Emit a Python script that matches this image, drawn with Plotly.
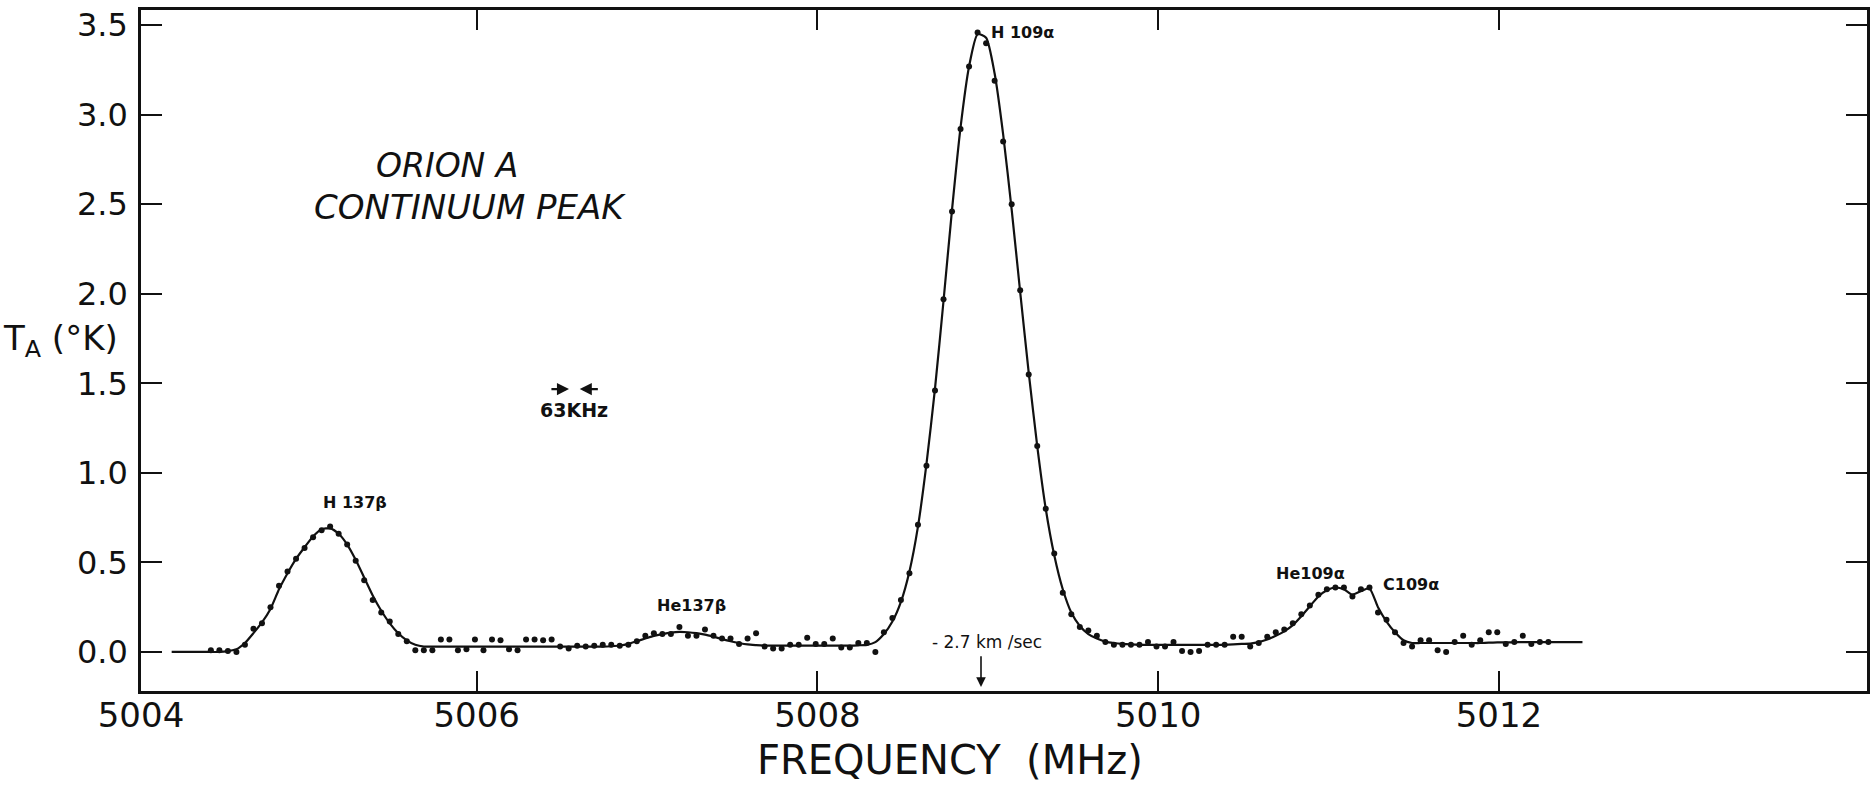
import plotly.graph_objects as go

# Channel centre frequencies (MHz) of the Orion A spectrum
FREQ_MHZ = [
    5004.44, 5004.49, 5004.54, 5004.59, 5004.64, 5004.69, 5004.74, 5004.79, 5004.84, 5004.89,
    5004.94, 5004.99, 5005.04, 5005.09, 5005.14, 5005.19, 5005.24, 5005.29, 5005.34, 5005.39,
    5005.44, 5005.49, 5005.54, 5005.59, 5005.64, 5005.69, 5005.74, 5005.79, 5005.84, 5005.89,
    5005.94, 5005.99, 5006.04, 5006.09, 5006.14, 5006.19, 5006.24, 5006.29, 5006.34, 5006.39,
    5006.44, 5006.49, 5006.54, 5006.59, 5006.64, 5006.69, 5006.74, 5006.79, 5006.84, 5006.89,
    5006.94, 5006.99, 5007.04, 5007.09, 5007.14, 5007.19, 5007.24, 5007.29, 5007.34, 5007.39,
    5007.44, 5007.49, 5007.54, 5007.59, 5007.64, 5007.69, 5007.74, 5007.79, 5007.84, 5007.89,
    5007.94, 5007.99, 5008.04, 5008.09, 5008.14, 5008.19, 5008.24, 5008.29, 5008.34, 5008.39,
    5008.44, 5008.49, 5008.54, 5008.59, 5008.64, 5008.69, 5008.74, 5008.79, 5008.84, 5008.89,
    5008.94, 5008.99, 5009.04, 5009.09, 5009.14, 5009.19, 5009.24, 5009.29, 5009.34, 5009.39,
    5009.44, 5009.49, 5009.54, 5009.59, 5009.64, 5009.69, 5009.74, 5009.79, 5009.84, 5009.89,
    5009.94, 5009.99, 5010.04, 5010.09, 5010.14, 5010.19, 5010.24, 5010.29, 5010.34, 5010.39,
    5010.44, 5010.49, 5010.54, 5010.59, 5010.64, 5010.69, 5010.74, 5010.79, 5010.84, 5010.89,
    5010.94, 5010.99, 5011.04, 5011.09, 5011.14, 5011.19, 5011.24, 5011.29, 5011.34, 5011.39,
    5011.44, 5011.49, 5011.54, 5011.59, 5011.64, 5011.69, 5011.74, 5011.79, 5011.84, 5011.89,
    5011.94, 5011.99, 5012.04, 5012.09, 5012.14, 5012.19, 5012.24, 5012.29,
]

# Measured antenna temperature per channel (K)
T_OBSERVED = [
    0.01, 0.01, 0.005, 0.0, 0.04, 0.13, 0.16, 0.25, 0.37, 0.45,
    0.52, 0.58, 0.64, 0.68, 0.70, 0.66, 0.60, 0.51, 0.40, 0.29,
    0.22, 0.17, 0.10, 0.06, 0.01, 0.01, 0.01, 0.07, 0.07, 0.01,
    0.015, 0.07, 0.01, 0.07, 0.065, 0.015, 0.01, 0.07, 0.07, 0.065,
    0.07, 0.03, 0.02, 0.035, 0.03, 0.035, 0.04, 0.04, 0.035, 0.04,
    0.06, 0.09, 0.105, 0.10, 0.10, 0.14, 0.09, 0.09, 0.125, 0.09,
    0.075, 0.075, 0.045, 0.075, 0.105, 0.03, 0.02, 0.02, 0.04, 0.04,
    0.08, 0.045, 0.045, 0.075, 0.025, 0.025, 0.05, 0.05, 0.0, 0.11,
    0.19, 0.29, 0.44, 0.71, 1.04, 1.46, 1.97, 2.46, 2.92, 3.27,
    3.46, 3.40, 3.19, 2.85, 2.50, 2.02, 1.55, 1.15, 0.80, 0.55,
    0.33, 0.21, 0.14, 0.12, 0.09, 0.055, 0.04, 0.04, 0.04, 0.04,
    0.055, 0.03, 0.03, 0.055, 0.005, 0.0, 0.005, 0.04, 0.04, 0.04,
    0.085, 0.085, 0.03, 0.05, 0.085, 0.11, 0.125, 0.16, 0.21, 0.26,
    0.32, 0.35, 0.36, 0.36, 0.31, 0.35, 0.36, 0.22, 0.18, 0.11,
    0.05, 0.03, 0.065, 0.065, 0.01, 0.0, 0.055, 0.09, 0.04, 0.065,
    0.11, 0.11, 0.045, 0.055, 0.09, 0.045, 0.055, 0.055,
]

# Smooth profile drawn through the channels (K)
T_FITTED = [
    0.0, 0.0, 0.005, 0.015, 0.05, 0.105, 0.165, 0.24, 0.35, 0.44,
    0.52, 0.585, 0.645, 0.685, 0.69, 0.66, 0.60, 0.515, 0.415, 0.315,
    0.23, 0.16, 0.105, 0.065, 0.04, 0.03, 0.03, 0.03, 0.03, 0.03,
    0.03, 0.03, 0.03, 0.03, 0.03, 0.03, 0.03, 0.03, 0.03, 0.03,
    0.03, 0.03, 0.03, 0.03, 0.03, 0.03, 0.03, 0.032, 0.036, 0.045,
    0.06, 0.075, 0.09, 0.10, 0.108, 0.112, 0.11, 0.105, 0.097, 0.085,
    0.072, 0.06, 0.05, 0.042, 0.038, 0.035, 0.035, 0.035, 0.035, 0.035,
    0.035, 0.035, 0.035, 0.035, 0.035, 0.035, 0.037, 0.04, 0.055, 0.10,
    0.17, 0.28, 0.45, 0.70, 1.05, 1.47, 1.96, 2.47, 2.93, 3.27,
    3.45, 3.43, 3.23, 2.89, 2.47, 2.01, 1.56, 1.15, 0.80, 0.54,
    0.35, 0.22, 0.145, 0.10, 0.075, 0.058, 0.05, 0.045, 0.042, 0.04,
    0.04, 0.04, 0.04, 0.04, 0.04, 0.04, 0.04, 0.04, 0.04, 0.04,
    0.042, 0.045, 0.047, 0.055, 0.07, 0.09, 0.115, 0.15, 0.20, 0.255,
    0.31, 0.345, 0.36, 0.35, 0.32, 0.34, 0.355, 0.25, 0.17, 0.11,
    0.065, 0.05, 0.05, 0.05, 0.05, 0.05, 0.05, 0.05, 0.05, 0.05,
    0.052, 0.053, 0.053, 0.054, 0.055, 0.055, 0.055, 0.055,
]

# Where the drawn profile starts and stops beyond the channels
FIT_ENDS_MHZ = [5004.21, 5012.49]
FIT_ENDS_T = [0.0, 0.055]

X_RANGE = [5004.03, 5014.16]
Y_RANGE = [-0.218, 3.585]
X_TICKS = [5004.03, 5006, 5008, 5010, 5012]
X_TICK_TEXT = ["5004", "5006", "5008", "5010", "5012"]
Y_TICKS = [0.0, 0.5, 1.0, 1.5, 2.0, 2.5, 3.0, 3.5]
Y_TICK_TEXT = ["0.0", "0.5", "1.0", "1.5", "2.0", "2.5", "3.0", "3.5"]

# Spectral line identifications: text, frequency, temperature
LINE_LABELS = [
    ("H 137β", 5005.285, 0.832),
    ("He137β", 5007.259, 0.262),
    ("H 109α", 5009.204, 3.462),
    ("He109α", 5010.896, 0.436),
    ("C109α", 5011.482, 0.374),
]

INK = "#111111"
FONT = "DejaVu Sans"

fit_x = [FIT_ENDS_MHZ[0]] + FREQ_MHZ + [FIT_ENDS_MHZ[1]]
fit_y = [FIT_ENDS_T[0]] + T_FITTED + [FIT_ENDS_T[1]]

fig = go.Figure()
fig.add_trace(go.Scatter(
    x=fit_x, y=fit_y, mode="lines",
    line=dict(color=INK, width=2.2, shape="spline", smoothing=0.6),
    hoverinfo="skip", showlegend=False,
))
fig.add_trace(go.Scatter(
    x=FREQ_MHZ, y=T_OBSERVED, mode="markers",
    marker=dict(color=INK, size=6, line=dict(width=0)),
    showlegend=False,
))

annotations = []
for text, fx, ty in LINE_LABELS:
    annotations.append(dict(
        x=fx, y=ty, xref="x", yref="y", text=text, showarrow=False,
        font=dict(family=FONT, size=16, color=INK, weight="bold"),
    ))

# Source title
annotations += [
    dict(x=5005.824, y=2.714, xref="x", yref="y", text="<i>ORION A</i>",
         showarrow=False, font=dict(family=FONT, size=33, color=INK)),
    dict(x=5005.959, y=2.485, xref="x", yref="y", text="<i>CONTINUUM PEAK</i>",
         showarrow=False, font=dict(family=FONT, size=34, color=INK)),
]

# Resolution marker: two arrows 63 kHz apart
annotations += [
    dict(x=5006.542, y=1.468, ax=5006.43, ay=1.468, xref="x", yref="y",
         axref="x", ayref="y", text="", showarrow=True, arrowhead=2,
         arrowsize=1.1, arrowwidth=2.2, arrowcolor=INK),
    dict(x=5006.605, y=1.468, ax=5006.72, ay=1.468, xref="x", yref="y",
         axref="x", ayref="y", text="", showarrow=True, arrowhead=2,
         arrowsize=1.1, arrowwidth=2.2, arrowcolor=INK),
    dict(x=5006.574, y=1.351, xref="x", yref="y", text="63KHz",
         showarrow=False, font=dict(family=FONT, size=19, color=INK, weight="bold")),
]

# Velocity marker
annotations += [
    dict(x=5008.96, y=-0.195, ax=5008.96, ay=-0.015, xref="x", yref="y",
         axref="x", ayref="y", text="", showarrow=True, arrowhead=2,
         arrowsize=1.2, arrowwidth=1.6, arrowcolor=INK),
    dict(x=5008.993, y=0.056, xref="x", yref="y", text="- 2.7 km /sec",
         showarrow=False, font=dict(family=FONT, size=17, color=INK)),
]

# Axis titles
annotations += [
    dict(x=-0.0121, y=0.515, xref="paper", yref="paper", xanchor="right",
         yanchor="middle", text="T<sub>A</sub> (°K)", showarrow=False,
         font=dict(family=FONT, size=34, color=INK)),
    dict(x=0.469, y=-0.1013, xref="paper", yref="paper", xanchor="center",
         yanchor="middle", text="FREQUENCY&nbsp; (MHz)", showarrow=False,
         font=dict(family=FONT, size=40, color=INK)),
]

fig.update_layout(
    width=1874, height=786,
    margin=dict(l=141, r=4, t=10, b=95),
    paper_bgcolor="white", plot_bgcolor="white",
    annotations=annotations,
    showlegend=False,
)
fig.update_xaxes(
    range=X_RANGE, tickvals=X_TICKS, ticktext=X_TICK_TEXT,
    ticks="inside", ticklen=20, tickwidth=2, tickcolor=INK,
    showline=True, linecolor=INK, linewidth=2.5, mirror="ticks",
    showgrid=False, zeroline=False, ticklabelstandoff=-8,
    tickfont=dict(family=FONT, size=34, color=INK),
)
fig.update_yaxes(
    range=Y_RANGE, tickvals=Y_TICKS, ticktext=Y_TICK_TEXT,
    ticks="inside", ticklen=21, tickwidth=2.2, tickcolor=INK,
    showline=True, linecolor=INK, linewidth=2.5, mirror="ticks",
    showgrid=False, zeroline=False, ticklabelstandoff=4,
    tickfont=dict(family=FONT, size=32, color=INK),
)

fig.write_html("out.html", config={"displayModeBar": False})
